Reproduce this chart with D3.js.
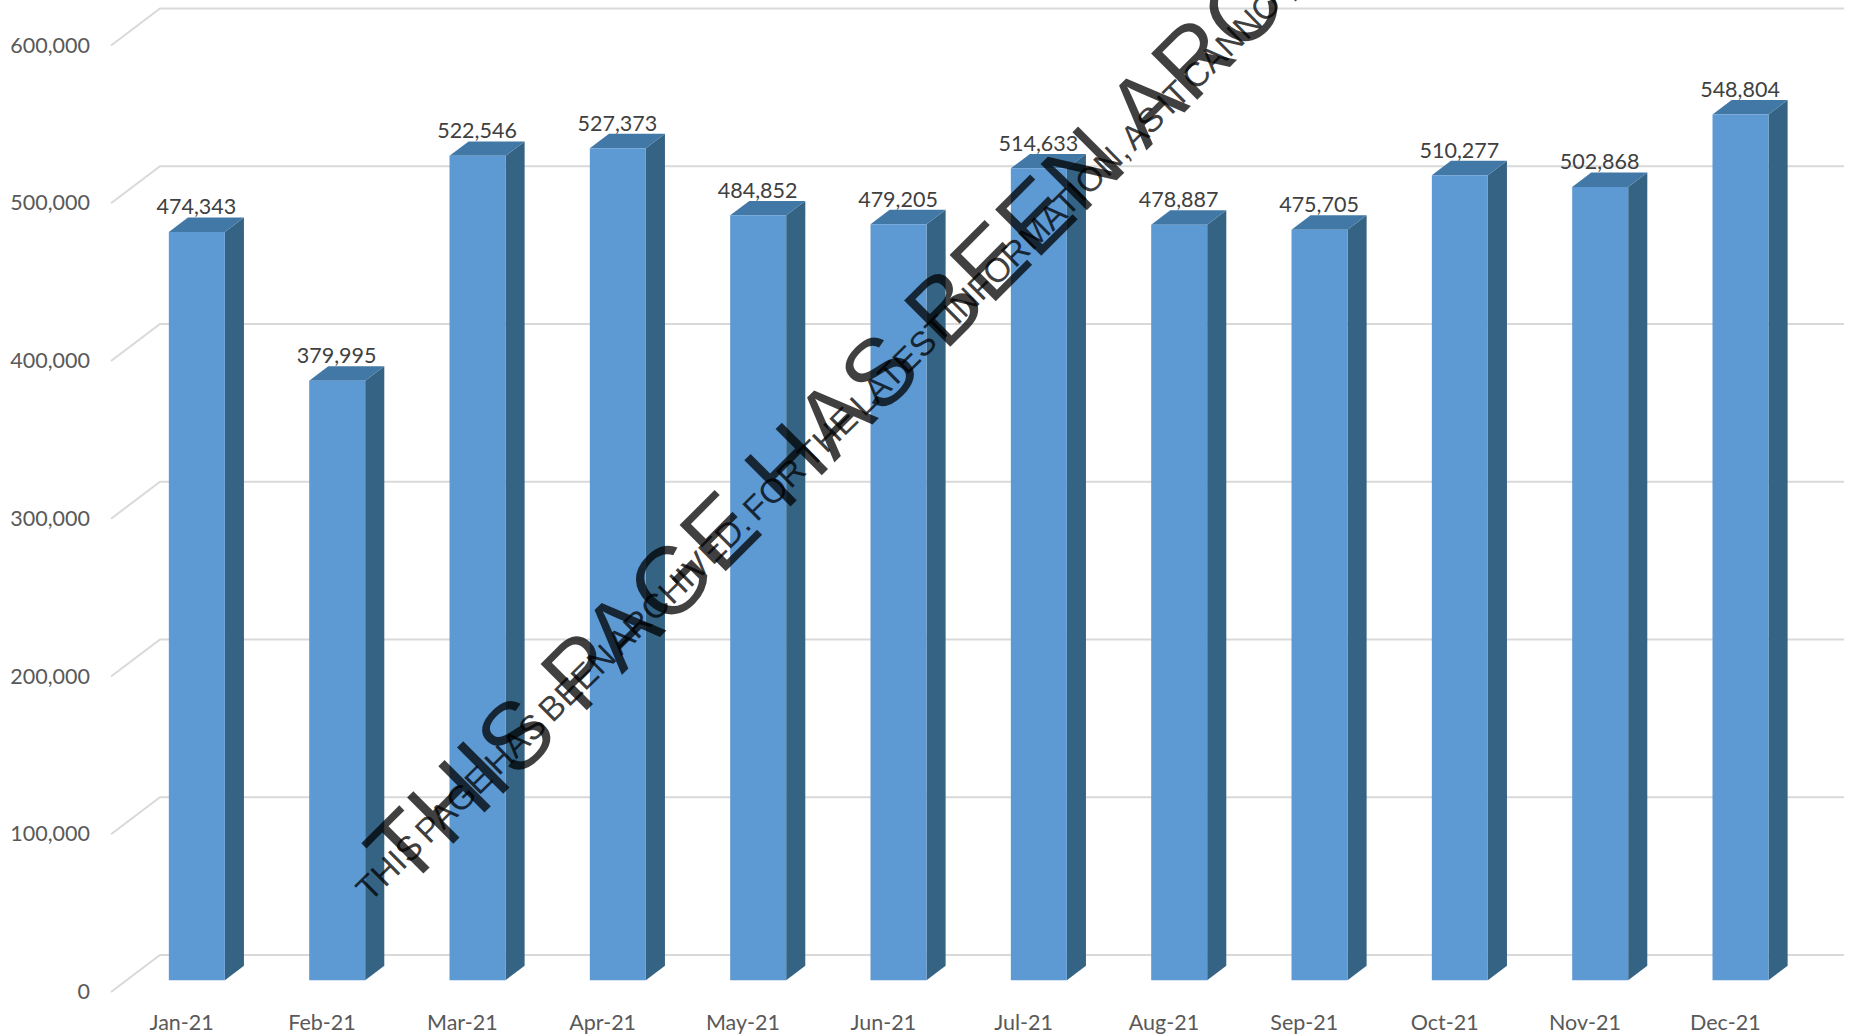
<!DOCTYPE html>
<html>
<head>
<meta charset="utf-8">
<style>
  html, body { margin: 0; padding: 0; background: #fff; }
  svg { display: block; }
</style>
<script src="https://cdn.jsdelivr.net/npm/d3@7"></script>
</head>
<body>
<svg id="chart"></svg>
<script>
const months = ['Jan-21', 'Feb-21', 'Mar-21', 'Apr-21', 'May-21', 'Jun-21', 'Jul-21', 'Aug-21', 'Sep-21', 'Oct-21', 'Nov-21', 'Dec-21'];
const visitors = [474343, 379995, 522546, 527373, 484852, 479205, 514633, 478887, 475705, 510277, 502868, 548804];
const yTicks = [0, 100000, 200000, 300000, 400000, 500000, 600000];
const bannerLarge = 'THIS PAGE HAS BEEN ARCHIVED';
const bannerSmall = 'THIS PAGE HAS BEEN ARCHIVED. FOR THE LATEST INFORMATION, AS IT CANNOT BE';

const width = 1860;
const height = 1034;
const svg = d3.select('#chart').attr('width', width).attr('height', height);

const x = d3.scaleBand().domain(months).range([111, 1795]).paddingInner(0).paddingOuter(0);
const y = d3.scaleLinear().domain([0, 600000]).range([992, 45.5]);

// fake 3D: depth 0 is the front plane, depth 1 the back wall
const depthX = d3.scaleLinear().domain([0, 1]).range([0, 49]);
const depthY = d3.scaleLinear().domain([0, 1]).range([0, -37]);
const project = (px, v, d) => [px + depthX(d), y(v) + depthY(d)];

const barWidth = 56;
const barFront = 0.32;
const barBack = 0.71;
const line = d3.line();

// gridlines, with the slanted bit on the floor/left side
svg.append('g').selectAll('path')
  .data(yTicks)
  .enter().append('path')
  .attr('d', v => line([project(111, v, 0), project(111, v, 1), project(1795, v, 1)]))
  .attr('fill', 'none')
  .attr('stroke', '#d9d9d9')
  .attr('stroke-width', 2);

// axis labels
svg.append('g').selectAll('text')
  .data(yTicks)
  .enter().append('text')
  .attr('class', 'axis')
  .attr('x', 90)
  .attr('y', v => y(v) + 7)
  .attr('text-anchor', 'end')
  .text(d3.format(','));

svg.append('g').selectAll('text')
  .data(months)
  .enter().append('text')
  .attr('class', 'axis')
  .attr('x', m => x(m) + x.bandwidth() / 2 + 0.5)
  .attr('y', 1029.5)
  .attr('text-anchor', 'middle')
  .text(m => m);

svg.selectAll('.axis')
  .style('font-family', 'Lato, sans-serif')
  .style('font-size', '21.5px')
  .style('fill', '#595959');

// bars
const rows = months.map((m, i) => ({ month: m, value: visitors[i] }));
const barLeft = d => x(d.month) + x.bandwidth() / 2 - barWidth / 2;
const bars = svg.append('g').selectAll('g').data(rows).enter().append('g');

bars.append('path')
  .attr('fill', '#356384')
  .attr('d', d => {
    const r = barLeft(d) + barWidth;
    return line([project(r, 0, barFront), project(r, 0, barBack), project(r, d.value, barBack), project(r, d.value, barFront)]) + 'Z';
  });

bars.append('path')
  .attr('fill', '#4278a6')
  .attr('d', d => {
    const l = barLeft(d);
    return line([project(l, d.value, barFront), project(l, d.value, barBack), project(l + barWidth, d.value, barBack), project(l + barWidth, d.value, barFront)]) + 'Z';
  });

bars.append('path')
  .attr('fill', '#5d99d3')
  .attr('d', d => {
    const l = barLeft(d);
    return line([project(l, 0, barFront), project(l + barWidth, 0, barFront), project(l + barWidth, d.value, barFront), project(l, d.value, barFront)]) + 'Z';
  });

// value labels sit centred over the front face
bars.append('text')
  .attr('x', d => project(barLeft(d) + barWidth / 2, d.value, barFront)[0] - 0.5)
  .attr('y', d => project(0, d.value, barBack)[1] - 3)
  .attr('text-anchor', 'middle')
  .style('font-family', 'Lato, sans-serif')
  .style('font-size', '21.5px')
  .style('fill', '#404040')
  .text(d => d3.format(',')(d.value));

// archive banner over everything
const banner = svg.append('g')
  .style('font-family', '"Liberation Sans", Arial, sans-serif')
  .style('fill', '#000')
  .style('fill-opacity', 0.75);

banner.append('text')
  .attr('transform', 'translate(406,891) rotate(-45)')
  .style('font-size', '95px')
  .style('letter-spacing', '1px')
  .text(bannerLarge);

banner.append('text')
  .attr('transform', 'translate(370,903) rotate(-44.5)')
  .style('font-size', '34px')
  .style('word-spacing', '-4px')
  .text(bannerSmall);
</script>
</body>
</html>
